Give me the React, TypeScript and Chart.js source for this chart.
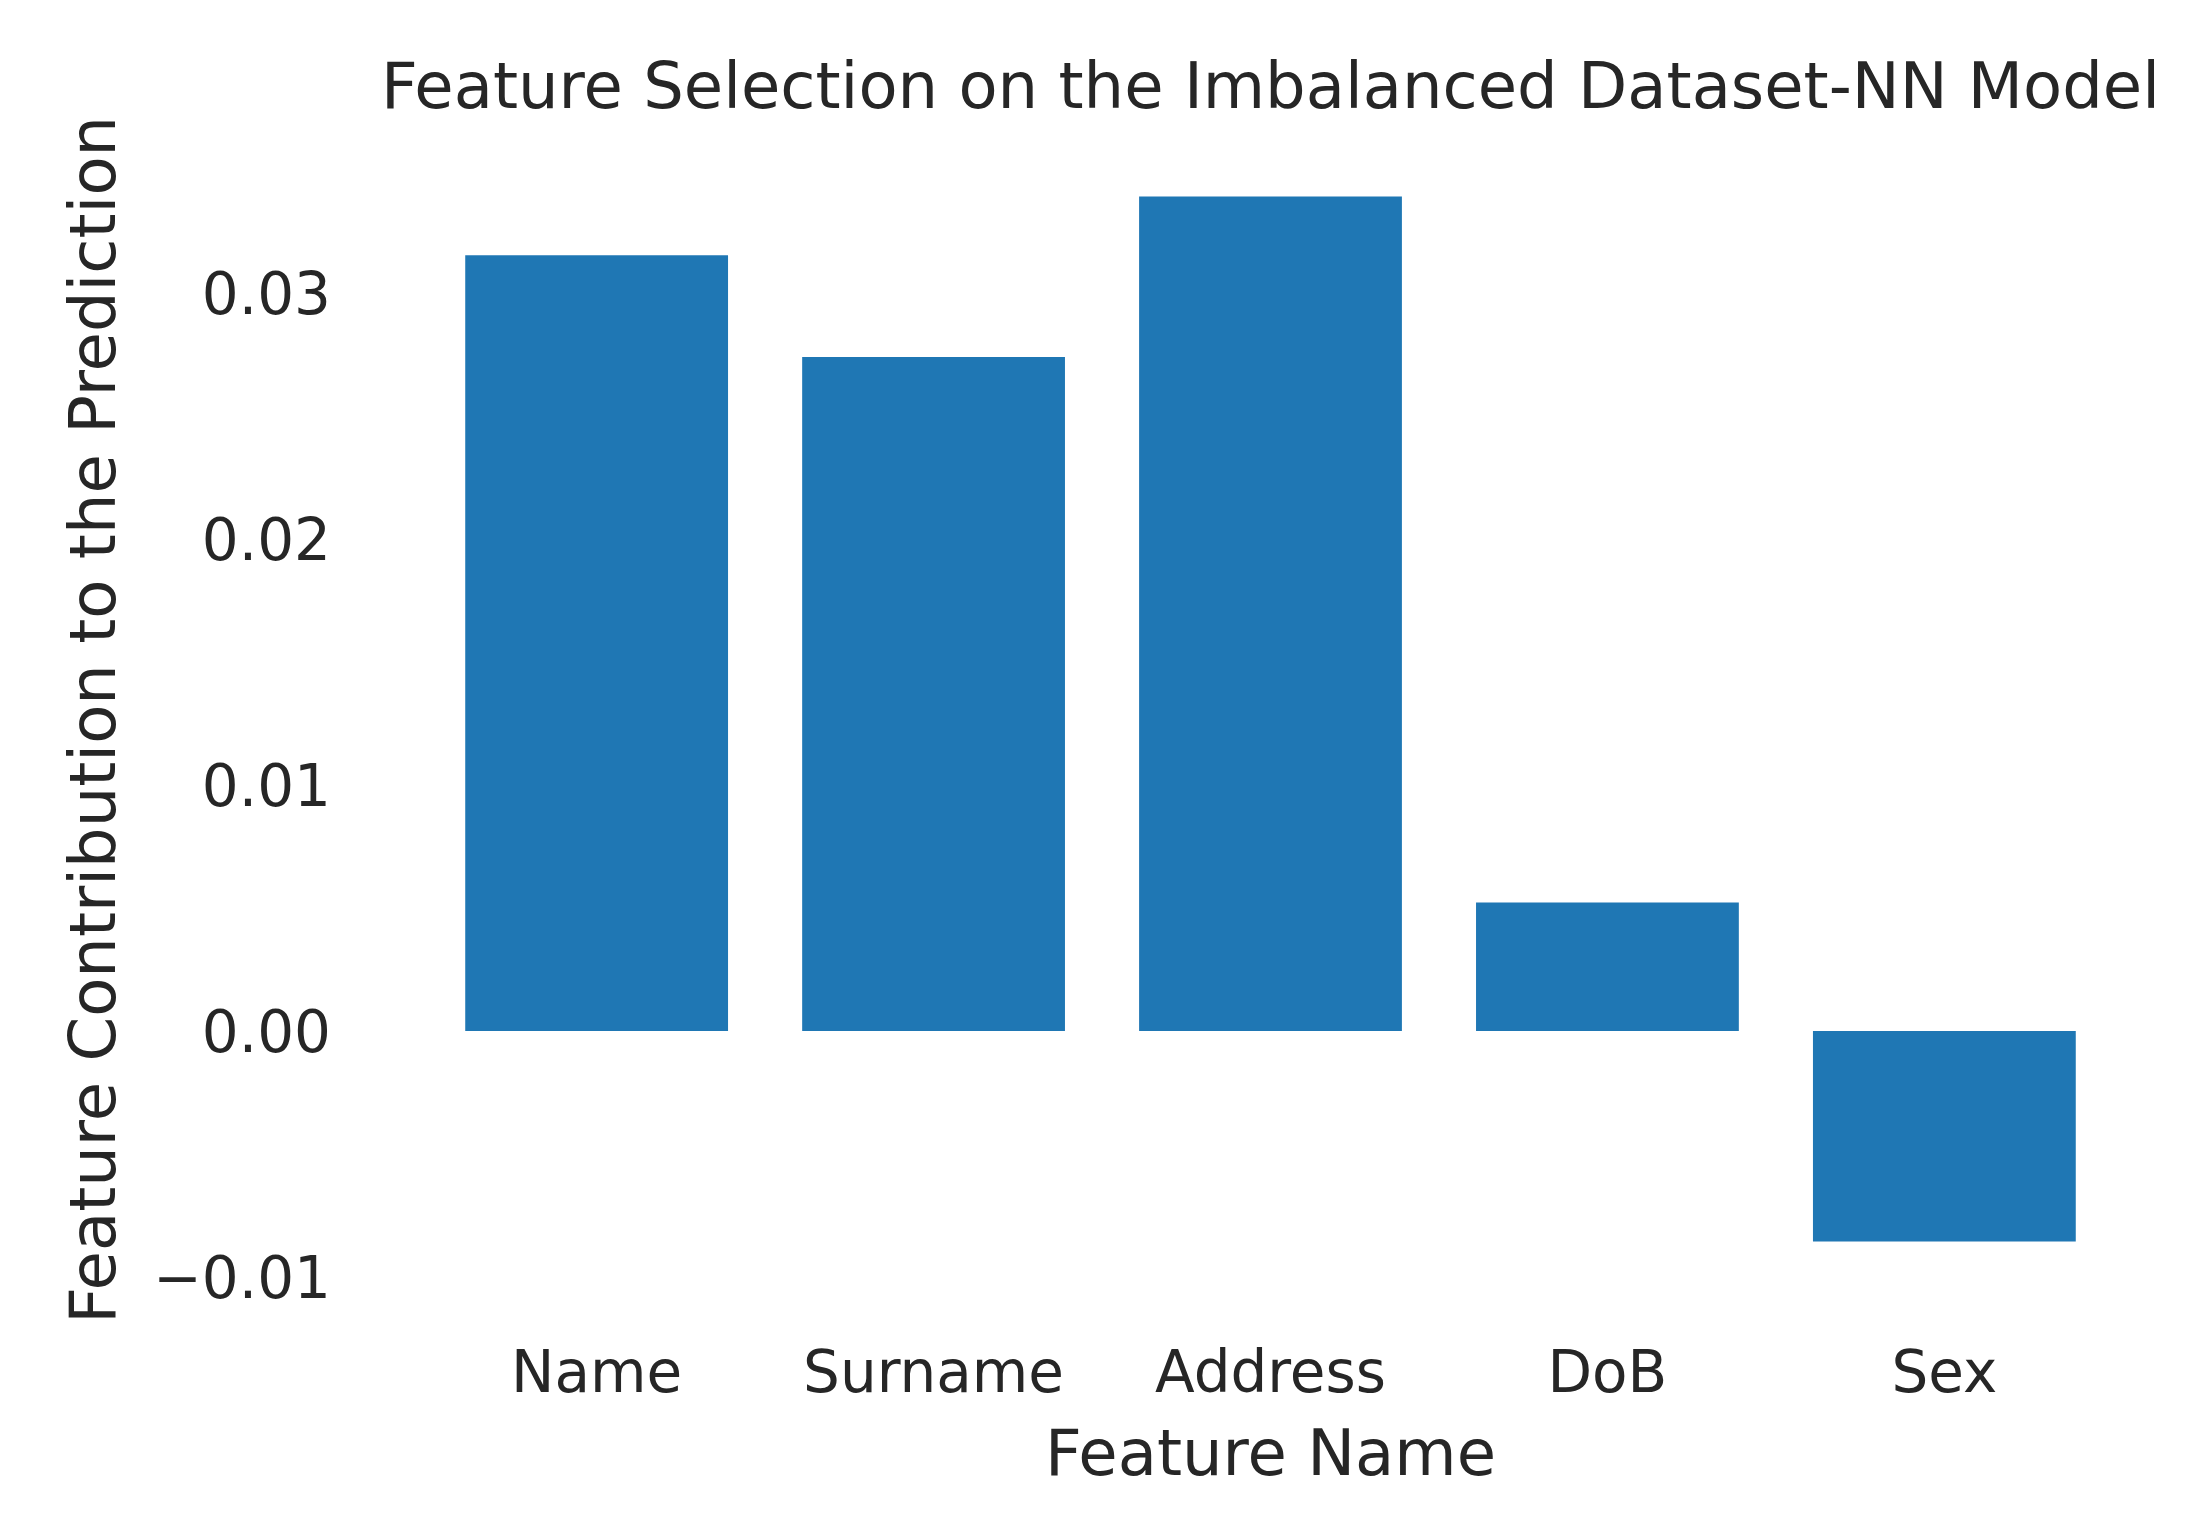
import React, { useEffect, useRef } from "react";
import { Chart, registerables } from "chart.js";

Chart.register(...registerables);

const categories = ["Name", "Surname", "Address", "DoB", "Sex"];
const contributions = [0.03154, 0.0274, 0.03393, 0.00522, -0.00857];
const yTickValues = [-0.01, 0.0, 0.01, 0.02, 0.03];
const yTickLabels = ["\u22120.01", "0.00", "0.01", "0.02", "0.03"];
const titleText = "Feature Selection on the Imbalanced Dataset-NN Model";
const xTitle = "Feature Name";
const yTitle = "Feature Contribution to the Prediction";

const FONT = "'DejaVu Sans', sans-serif";
const TEXT = "#262626";
const BAR = "#1f77b4";

export default function App() {
  const ref = useRef<HTMLCanvasElement | null>(null);

  useEffect(() => {
    if (!ref.current) return;
    const chart = new Chart(ref.current, {
      type: "bar",
      data: {
        datasets: [
          {
            data: categories.map((_, i) => ({ x: i, y: contributions[i] })),
            backgroundColor: BAR,
            borderWidth: 0,
            barPercentage: 0.78,
            categoryPercentage: 1.0,
          },
        ],
      },
      options: {
        responsive: false,
        animation: false,
        devicePixelRatio: 1,
        layout: { padding: { left: 0, right: 30, top: 0, bottom: 0 } },
        plugins: {
          legend: { display: false },
          tooltip: { enabled: false },
          title: {
            display: true,
            text: titleText,
            fullSize: false,
            color: TEXT,
            font: { family: FONT, size: 64, weight: "normal", lineHeight: 1.2 },
            padding: { top: 53.4, bottom: 15.4 },
          },
        },
        scales: {
          x: {
            type: "linear",
            offset: false,
            min: -0.64,
            max: 4.64,
            grid: { display: false, drawTicks: false },
            border: { display: false },
            afterBuildTicks: (scale: any) => {
              scale.ticks = categories.map((_, i) => ({ value: i }));
            },
            ticks: {
              autoSkip: false,
              maxRotation: 0,
              minRotation: 0,
              padding: 48.4,
              color: TEXT,
              font: { family: FONT, size: 58, lineHeight: 1.2 },
              callback: (v: any) => {
                const i = Math.round(Number(v));
                return categories[i] ?? "";
              },
            },
            title: {
              display: true,
              text: xTitle,
              color: TEXT,
              font: { family: FONT, size: 64, lineHeight: 1.2 },
              padding: { top: 0, bottom: 28.6 },
            },
            afterFit: (scale: any) => {
              scale.height = 231;
              scale.paddingLeft = 0;
              scale.paddingRight = 0;
            },
          },
          y: {
            type: "linear",
            min: -0.0107,
            max: 0.036,
            grid: { display: false, drawTicks: false },
            border: { display: false },
            afterBuildTicks: (scale: any) => {
              scale.ticks = yTickValues.map((v) => ({ value: v }));
            },
            ticks: {
              padding: 50,
              labelOffset: 6,
              color: TEXT,
              font: { family: FONT, size: 58, lineHeight: 1.2 },
              callback: (v: any) => {
                const idx = yTickValues.findIndex((t) => Math.abs(t - Number(v)) < 1e-9);
                return idx >= 0 ? yTickLabels[idx] : "";
              },
            },
            title: {
              display: true,
              text: yTitle,
              color: TEXT,
              font: { family: FONT, size: 64, lineHeight: 1.2 },
              padding: { top: 60, bottom: 0 },
            },
            afterFit: (scale: any) => {
              scale.width = 381;
              scale.paddingTop = 0;
              scale.paddingBottom = 0;
            },
          },
        },
      },
    });
    return () => chart.destroy();
  }, []);

  return (
    <div style={{ position: "absolute", left: 0, top: 0, width: 2190, height: 1525, background: "#ffffff" }}>
      <canvas ref={ref} width={2190} height={1525} style={{ display: "block" }} />
    </div>
  );
}
